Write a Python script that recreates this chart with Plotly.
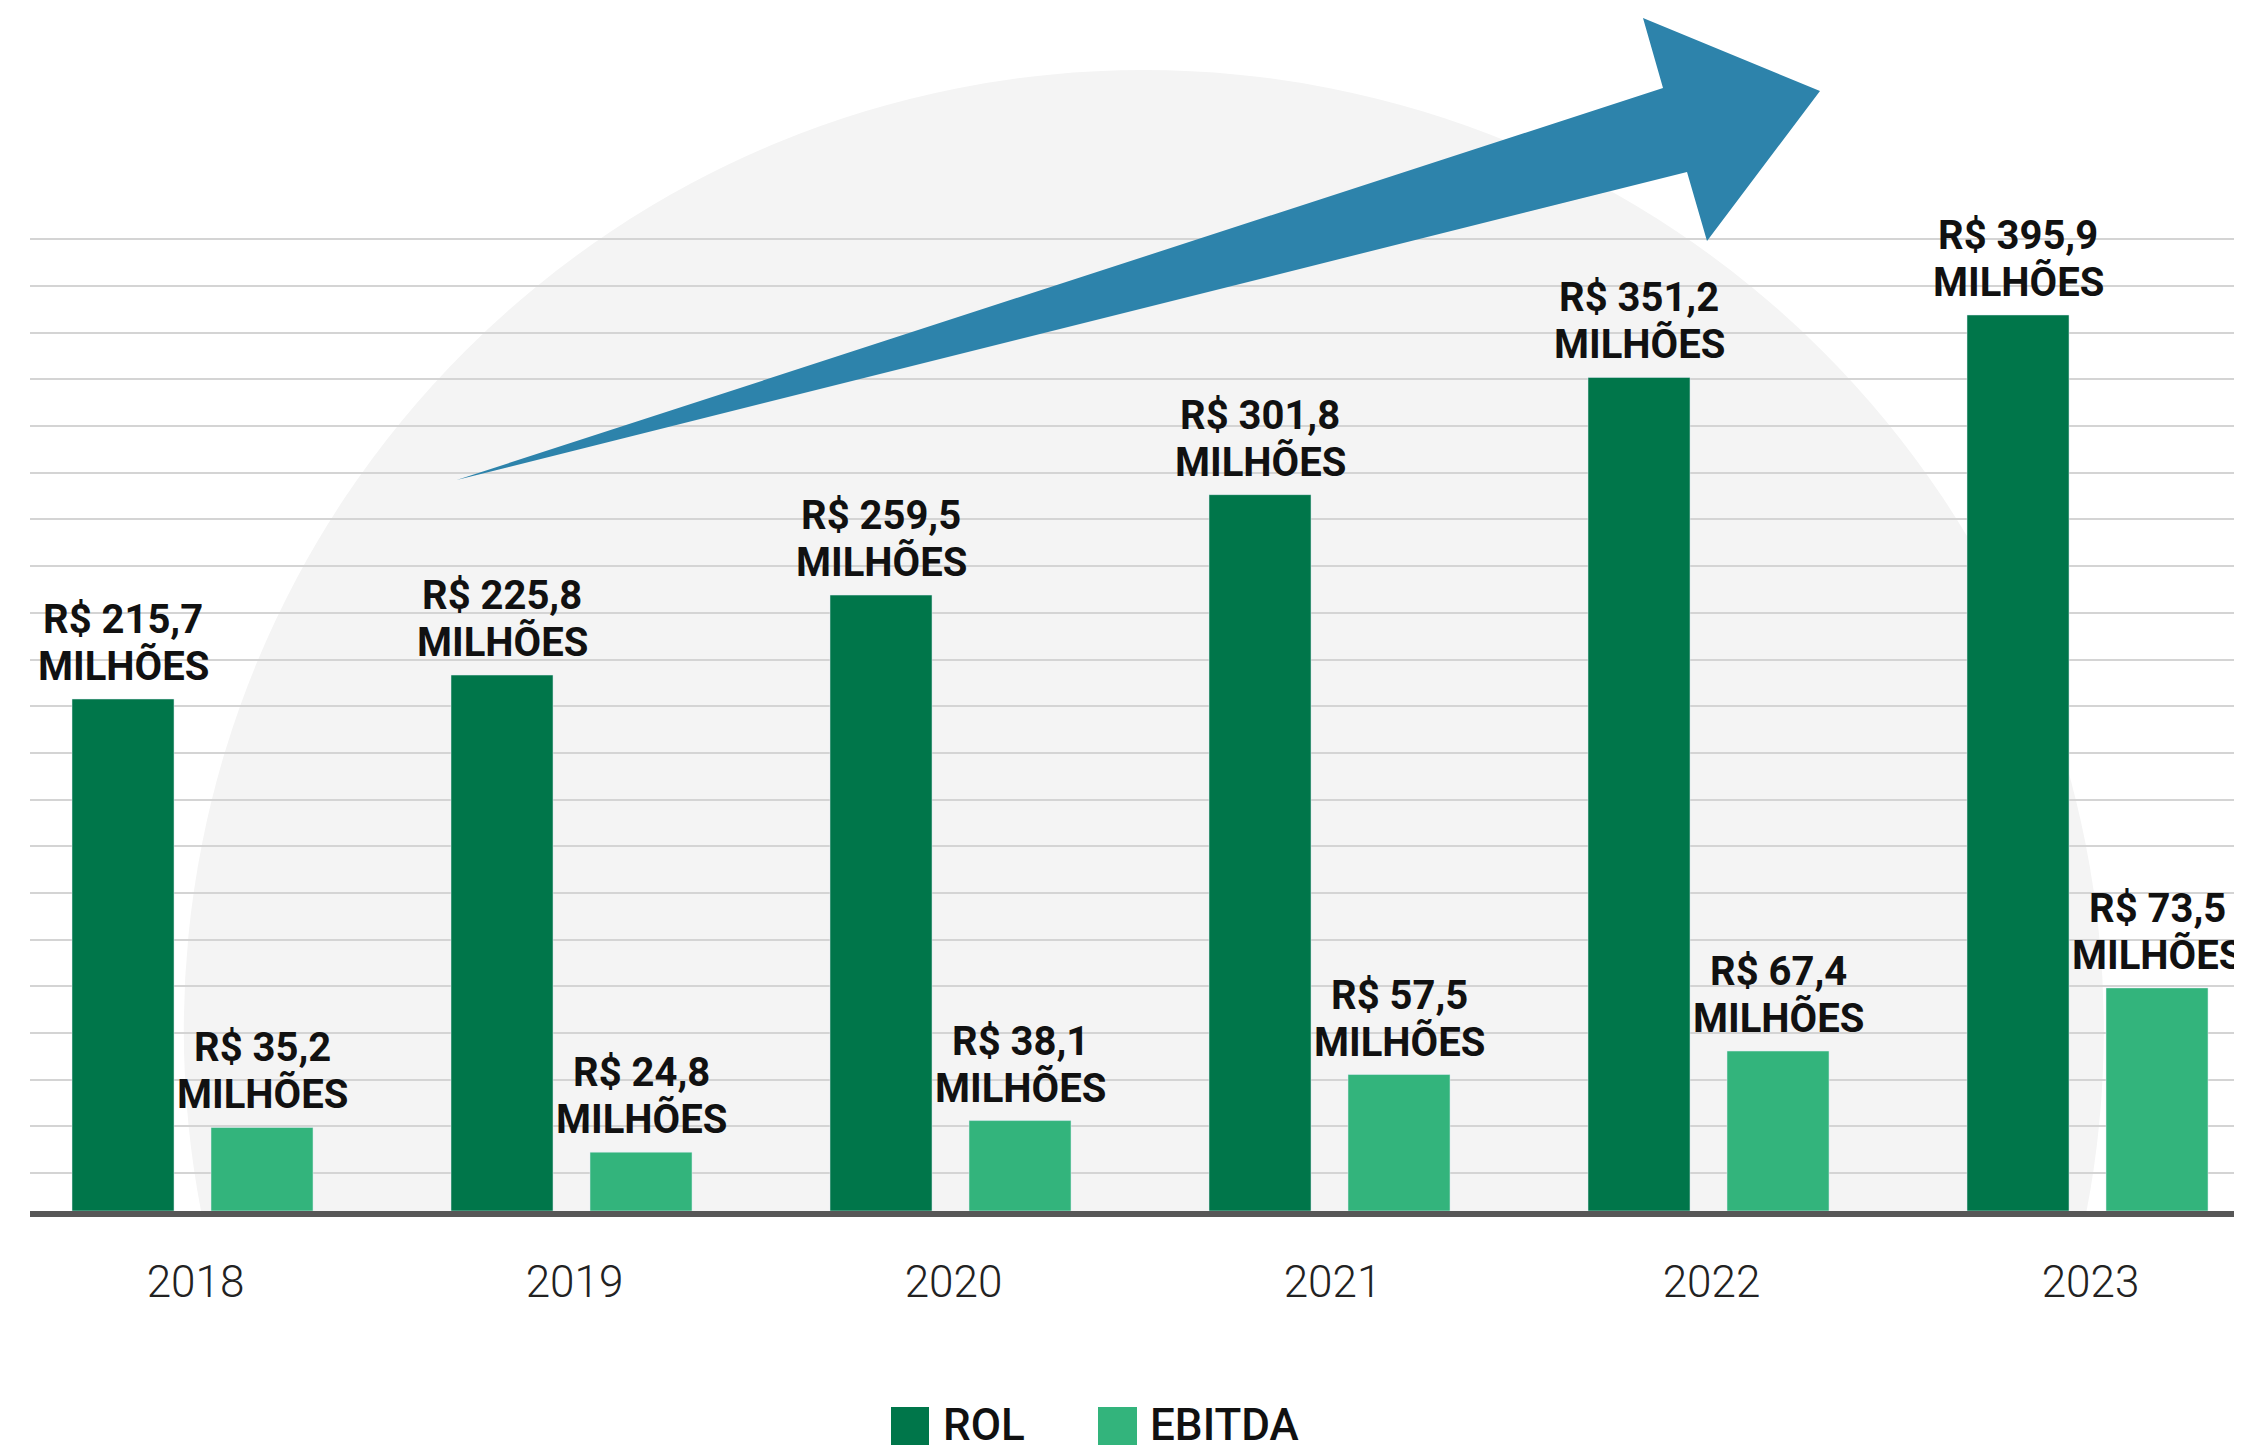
import plotly.graph_objects as go

# ---------------- data ----------------
years = ["2018", "2019", "2020", "2021", "2022", "2023"]
rol_values = [215.7, 225.8, 259.5, 301.8, 351.2, 395.9]      # values printed on labels
ebitda_values = [35.2, 24.8, 38.1, 57.5, 67.4, 73.5]
rol_drawn = [215.7, 225.8, 259.5, 301.8, 351.2, 377.5]       # bar heights as drawn in the picture
ebitda_drawn = [35.2, 24.8, 38.1, 57.5, 67.4, 94.0]
series_names = ["ROL", "EBITDA"]
unit_text = "MILHÕES"

# ---------------- style ----------------
OFF = 8                      # page body margin of the html page
W, H = 2242 - OFF, 1447 - OFF
ML, MR, MT = 30 - OFF, 0, 0
PLOT_BOTTOM = 1211 - OFF
MB = H - PLOT_BOTTOM
PW, PH = W - ML - MR, PLOT_BOTTOM - MT
C_ROL = "#00764a"
C_EBITDA = "#33b47c"
C_ARROW = "#2d83ab"
C_CIRCLE = "#f4f4f4"
FONT = "Roboto"

PX_PER_UNIT = 2.3736
Y_MAX = PH / PX_PER_UNIT
CAT_PX = 379.0
X_LEFT = -0.4288
X_RANGE = [X_LEFT, X_LEFT + PW / CAT_PX]
BARGAP, BARGROUPGAP = 0.2665, 0.266
LABEL_SIZE = 40
LABEL_LINE = 47   # px between the two label lines


def money(v):
    return "R$ " + f"{v:.1f}".replace(".", ",")


def page_to_paper(x, y):
    """reference-page pixel -> paper coordinates"""
    fx, fy = x - OFF, y - OFF
    return (fx - ML) / PW, (PLOT_BOTTOM - fy) / PH


fig = go.Figure()
fig.add_trace(go.Bar(x=list(range(len(years))), y=rol_drawn, name=series_names[0],
                     marker_color=C_ROL, hoverinfo="skip"))
fig.add_trace(go.Bar(x=list(range(len(years))), y=ebitda_drawn, name=series_names[1],
                     marker_color=C_EBITDA, hoverinfo="skip"))

# value labels above bars (two lines)
half = (1 - BARGAP) / 4
label_font = dict(family=FONT, size=LABEL_SIZE, color="#111111", weight="bold")
for series, vals, sign in ((rol_drawn, rol_values, -1), (ebitda_drawn, ebitda_values, 1)):
    for i, (h, v) in enumerate(zip(series, vals)):
        for txt, shift in ((unit_text, 7), (money(v), 7 + LABEL_LINE)):
            fig.add_annotation(x=i + sign * half, y=h, xref="x", yref="y", text=txt,
                               showarrow=False, xanchor="center", yanchor="bottom",
                               yshift=shift, font=label_font)

# background circle (clipped at the axis)
cx, cr = 2.51, 2.533
cy, ry = 76.3, 404.4
fig.add_shape(type="circle", xref="x", yref="y", x0=cx - cr, x1=cx + cr,
              y0=cy - ry, y1=cy + ry, fillcolor=C_CIRCLE, line_width=0, layer="below")

# big arrow
arrow_px = [(456.7, 480), (1663, 88), (1643, 18), (1820, 91), (1707, 241), (1687, 172)]
pts = [page_to_paper(x, y) for x, y in arrow_px]
path = "M " + " L ".join(f"{x:.5f},{y:.5f}" for x, y in pts) + " Z"
fig.add_shape(type="path", xref="paper", yref="paper", path=path,
              fillcolor=C_ARROW, line_width=0, layer="above")

# manual legend
legend_items = [(891, 929, C_ROL, 942, series_names[0]), (1098, 1137, C_EBITDA, 1149, series_names[1])]
for x0, x1, col, tx, name in legend_items:
    px0, py0 = page_to_paper(x0, 1445)
    px1, py1 = page_to_paper(x1, 1407)
    fig.add_shape(type="rect", xref="paper", yref="paper", x0=px0, x1=px1, y0=py0, y1=py1,
                  fillcolor=col, line_width=0)
    ax, ay = page_to_paper(tx, 1425)
    fig.add_annotation(x=ax, y=ay, xref="paper", yref="paper", text=name, showarrow=False,
                       xanchor="left", yanchor="middle", borderpad=0,
                       font=dict(family=FONT, size=44, color="#111111", weight=500))

grid_vals = [16.0 + 19.667 * i for i in range(21)]

fig.update_layout(
    width=W, height=H, autosize=False,
    margin=dict(l=ML, r=MR, t=MT, b=MB, pad=0),
    paper_bgcolor="white", plot_bgcolor="white",
    barmode="group", bargap=BARGAP, bargroupgap=BARGROUPGAP,
    showlegend=False,
    font=dict(family=FONT),
    xaxis=dict(range=X_RANGE, showgrid=False, showline=True, linecolor="#575757", linewidth=6,
               ticks="", ticklabelstandoff=27, ticklabelshift=3, tickmode="array",
               tickvals=list(range(len(years))), ticktext=years,
               tickfont=dict(family=FONT, size=44, color="#222222", weight=300),
               fixedrange=True),
    yaxis=dict(range=[0, Y_MAX], showgrid=True, gridcolor="#d4d4d4", gridwidth=1.5,
               tickmode="array", tickvals=grid_vals, showticklabels=False,
               zeroline=False, showline=False, fixedrange=True),
)

fig.write_html("out.html")
